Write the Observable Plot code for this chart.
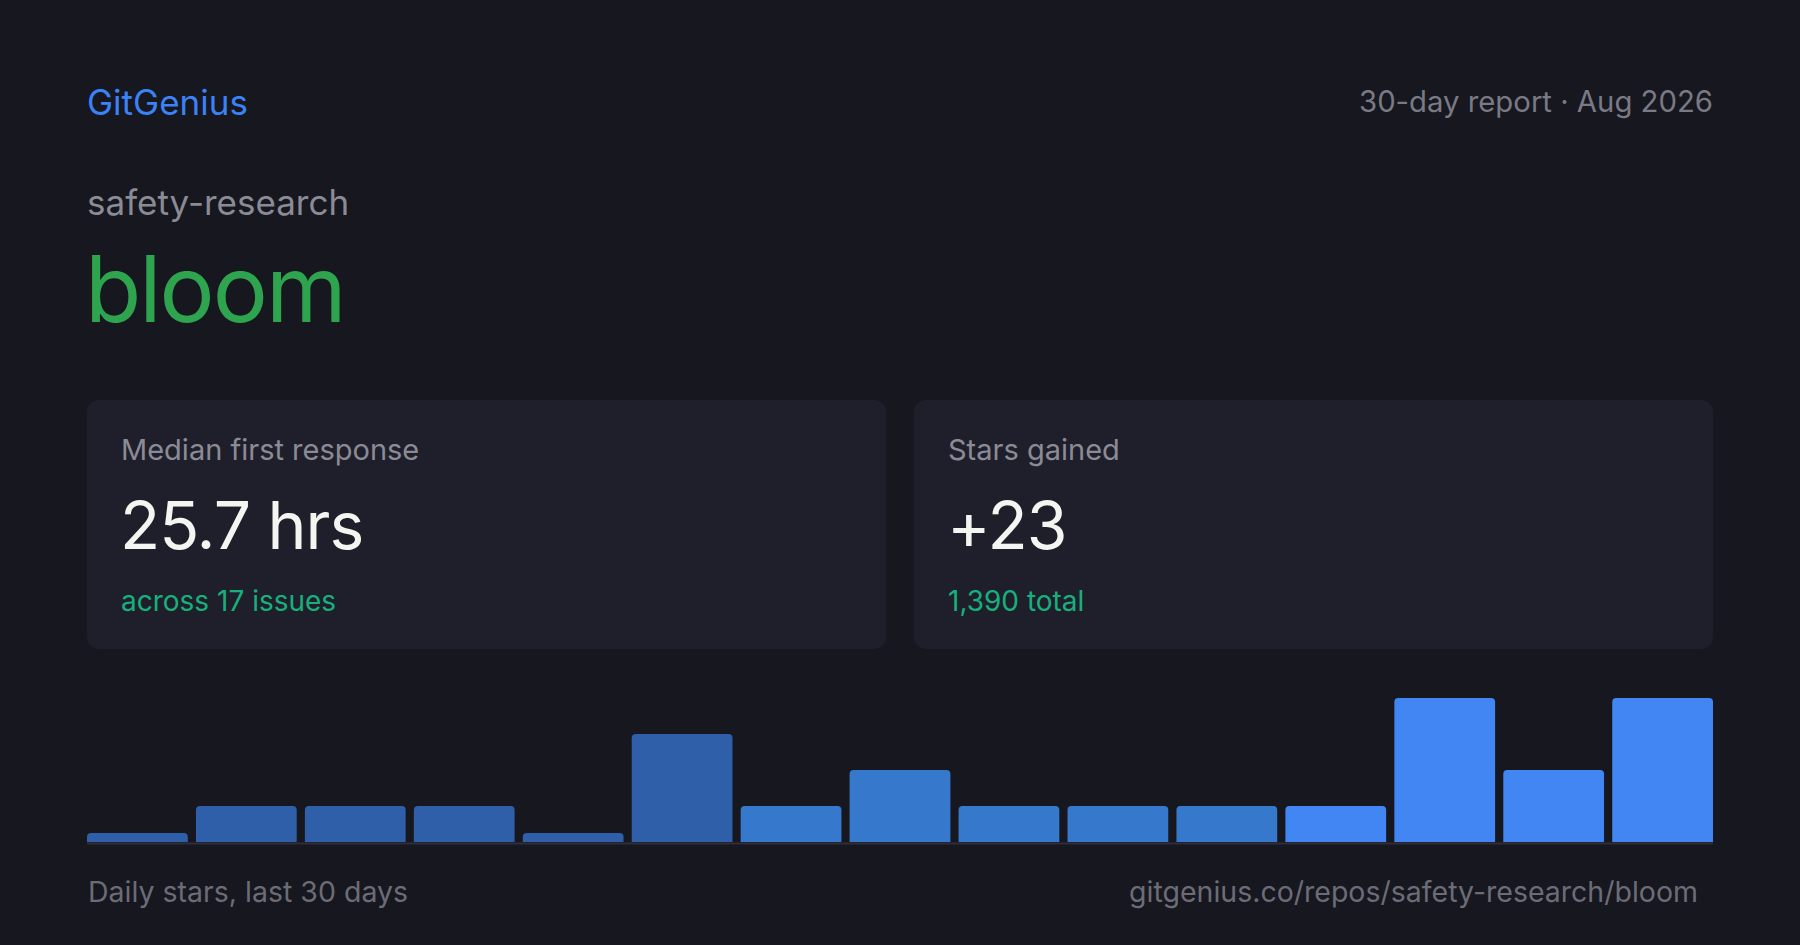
<!DOCTYPE html>
<html>
<head>
<meta charset="utf-8">
<script src="https://cdn.jsdelivr.net/npm/d3@7"></script>
<script src="https://cdn.jsdelivr.net/npm/@observablehq/plot@0.6"></script>
<style>
  html, body { margin: 0; padding: 0; background: #16171f; }
  body { width: 1800px; height: 945px; position: relative; overflow: hidden; font-family: Inter, "Noto Sans", sans-serif; }
  .t { position: absolute; line-height: 1; white-space: nowrap; }
  .card { position: absolute; background: #1f1f2b; border-radius: 12px; }
  #chart { position: absolute; left: 87px; top: 690px; }
</style>
</head>
<body>
<script>
// ---- data ----
const brand = "GitGenius";
const reportLabel = "30-day report · Aug 2026";
const owner = "safety-research";
const repo = "bloom";
const cardLabels = ["Median first response", "Stars gained"];
const cardValues = ["25.7 hrs", "+23"];
const cardNotes = ["across 17 issues", "1,390 total"];
const footerLeft = "Daily stars, last 30 days";
const footerRight = "gitgenius.co/repos/safety-research/bloom";
const bins = d3.range(1, 16);
const stars = [0, 1, 1, 1, 0, 3, 1, 2, 1, 1, 1, 1, 4, 2, 4];
const tiers = ["older","older","older","older","older","older","mid","mid","mid","mid","mid","recent","recent","recent","recent"];
const tierDomain = ["older", "mid", "recent"];
const tierColors = ["#2f5fa8", "#3678cc", "#4286f4"];

// ---- text helpers ----
function text(str, {x, baseline, size, color, weight = 400, anchor = "start", spacing = 0}) {
  const el = document.createElement("div");
  el.className = "t";
  el.textContent = str;
  el.style.fontSize = size + "px";
  el.style.color = color;
  el.style.fontWeight = weight;
  el.style.letterSpacing = spacing + "px";
  el.style.top = (baseline - 0.8635 * size) + "px";
  if (anchor === "end") { el.style.right = (1800 - x) + "px"; }
  else { el.style.left = x + "px"; }
  document.body.appendChild(el);
  return el;
}

text(brand, {x: 87, baseline: 115, size: 35, color: "#3b82f6"});
text(reportLabel, {x: 1713, baseline: 112, size: 29.3, color: "#7a7a85", anchor: "end"});
text(owner, {x: 87, baseline: 215, size: 35, color: "#8b8b95"});
text(repo, {x: 85, baseline: 322, size: 92, color: "#2ea44f", spacing: -2});

const cardX = [87, 914];
cardX.forEach((cx, i) => {
  const c = document.createElement("div");
  c.className = "card";
  c.style.left = cx + "px"; c.style.top = "400px";
  c.style.width = "799px"; c.style.height = "249px";
  document.body.appendChild(c);
  text(cardLabels[i], {x: cx + 34, baseline: 460, size: 29, color: "#8b8b96"});
  text(cardValues[i], {x: cx + 33, baseline: 549, size: 66, color: "#f4f4f1", spacing: -1});
  text(cardNotes[i], {x: cx + 34, baseline: 611, size: 28, color: "#17b07c"});
});

text(footerLeft, {x: 88, baseline: 903, size: 28.5, color: "#6c6c77"});
text(footerRight, {x: 1698, baseline: 903, size: 28.5, color: "#6c6c77", anchor: "end"});

// ---- chart ----
const data = bins.map((b, i) => ({bin: b, stars: stars[i], tier: tiers[i]}));
const chart = Plot.plot({
  width: 1626,
  height: 154,
  marginTop: 8,
  marginBottom: 2,
  marginLeft: 0,
  marginRight: 0,
  style: {background: "transparent", overflow: "visible"},
  x: {type: "band", domain: bins, paddingInner: 0.075, paddingOuter: 0, round: false, axis: null},
  y: {domain: [0, 4], axis: null},
  color: {domain: tierDomain, range: tierColors},
  marks: [
    Plot.rectY(data, {
      x: "bin",
      y1: -0.2,
      y2: d => Math.max(d.stars, 0.25),
      fill: "tier",
      rx: 4,
      clip: true
    }),
    Plot.ruleY([0], {stroke: "#2e2e3c", strokeWidth: 2, dy: 1})
  ]
});
chart.id = "chart";
document.body.appendChild(chart);
</script>
</body>
</html>
